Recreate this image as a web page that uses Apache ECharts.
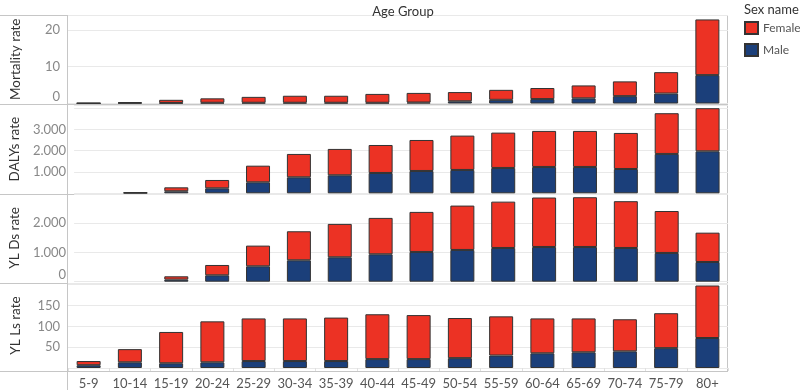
<!DOCTYPE html>
<html>
<head>
<meta charset="utf-8">
<script src="https://cdn.jsdelivr.net/npm/echarts@6/dist/echarts.min.js"></script>
<style>
  html, body { margin: 0; padding: 0; background: #fff; }
  #main { width: 800px; height: 390px; }
</style>
</head>
<body>
<div id="main"></div>
<script>
// categories
var ageGroups = ["5-9", "10-14", "15-19", "20-24", "25-29", "30-34", "35-39", "40-44",
  "45-49", "50-54", "55-59", "60-64", "65-69", "70-74", "75-79", "80+"];

// Mortality rate
var mortalityMale = [0.05, 0.15, 0.15, 0.2, 0.2, 0.2, 0.2, 0.2, 0.27, 0.6, 1.0, 1.2, 1.4, 2.0, 2.7, 7.7];
var mortalityFemale = [0.1, 0.2, 0.85, 1.2, 1.6, 1.9, 1.9, 2.4, 2.6, 2.5, 2.7, 3.0, 3.5, 4.0, 5.8, 15.1];
var mortalityTicks = [0, 10, 20];

// DALYs rate
var dalysMale = [0, 20, 94, 234, 516, 750, 845, 953, 1047, 1094, 1188, 1235, 1235, 1140, 1845, 1970];
var dalysFemale = [0, 27, 186, 391, 779, 1095, 1235, 1312, 1453, 1611, 1657, 1690, 1690, 1690, 1910, 2020];
var dalysTicks = [1000, 2000, 3000];

// YLDs rate
var yldsMale = [0, 0, 70, 218, 525, 730, 833, 935, 1014, 1082, 1150, 1184, 1184, 1150, 980, 672];
var yldsFemale = [0, 0, 114, 352, 705, 990, 1137, 1240, 1366, 1513, 1580, 1686, 1696, 1595, 1430, 1000];
var yldsTicks = [0, 1000, 2000];

// YLLs rate
var yllsMale = [6.7, 13.7, 11.4, 13.7, 16.7, 16.7, 16.7, 21.4, 21.4, 23.7, 30, 35.3, 37.7, 40, 47.7, 72];
var yllsFemale = [10, 31.6, 75.1, 98.3, 102.3, 102.3, 104.3, 107.6, 105.6, 96.3, 94, 83.7, 81.3, 77, 83.8, 126];
var yllsTicks = [50, 100, 150];

var panels = [
  { name: "Mortality rate", male: mortalityMale, female: mortalityFemale, ticks: mortalityTicks, max: 24, interval: 10 },
  { name: "DALYs rate", male: dalysMale, female: dalysFemale, ticks: dalysTicks, max: 4140, interval: 1000 },
  { name: "YL Ds rate", male: yldsMale, female: yldsFemale, ticks: yldsTicks, max: 2990, interval: 1000 },
  { name: "YL Ls rate", male: yllsMale, female: yllsFemale, ticks: yllsTicks, max: 204, interval: 50 }
];

var FEMALE = "#ec3224";
var MALE = "#1b3f7a";
var FONT = "Lato";

// panel layout (zero line of each panel)
var grids = [
  { top: 15, height: 88.5 },
  { top: 105, height: 88.3 },
  { top: 194, height: 87.7 },
  { top: 283, height: 88.2 }
];

var fmt = function (v) {
  return String(v).replace(/\B(?=(\d{3})+(?!\d))/g, ".");
};
// zero values are not drawn at all (no outline)
var noZero = function (arr) {
  return arr.map(function (v) { return v === 0 ? null : v; });
};

var myChart = echarts.init(document.getElementById("main"));

var option = {
  animation: false,
  textStyle: { fontFamily: FONT },
  title: [
    {
      text: "Age Group",
      left: 398,
      textAlign: "center",
      top: 0,
      textStyle: { fontSize: 13, fontWeight: "normal", color: "#333", fontFamily: FONT }
    },
    {
      text: "Sex name",
      left: 739,
      top: -2,
      textStyle: { fontSize: 13, fontWeight: "normal", color: "#333", fontFamily: FONT }
    }
  ],
  legend: {
    orient: "vertical",
    left: 739,
    top: 16,
    itemWidth: 13,
    itemHeight: 12,
    itemGap: 8,
    icon: "rect",
    data: ["Female", "Male"],
    textStyle: { fontSize: 12, color: "#555", fontFamily: FONT }
  },
  grid: grids.map(function (g) {
    return { left: 68, width: 660, top: g.top, height: g.height };
  }),
  xAxis: panels.map(function (p, i) {
    return {
      gridIndex: i,
      type: "category",
      data: ageGroups,
      axisLine: { show: false },
      axisTick: { show: i === 3, length: 3, lineStyle: { color: "#e0e0e0" } },
      axisLabel: { show: i === 3, interval: 0, color: "#555", fontSize: 13, margin: 9, fontFamily: FONT }
    };
  }),
  yAxis: panels.map(function (p, i) {
    return {
      gridIndex: i,
      type: "value",
      min: 0,
      max: p.max,
      interval: p.interval,
      name: p.name,
      nameLocation: "middle",
      nameGap: 45,
      nameRotate: 90,
      nameTextStyle: { fontSize: 13.5, color: "#333", fontFamily: FONT },
      axisLine: { show: false },
      axisTick: { show: false },
      splitLine: {
        lineStyle: { color: "#e9e9e9" }
      },
      axisLabel: {
        margin: 8,
        color: "#888",
        fontSize: 13,
        fontFamily: FONT,
        showMaxLabel: false,
        formatter: function (v) {
          if (p.ticks.indexOf(v) < 0) return "";
          if (v === 0) return "{z|0}";
          return fmt(v);
        },
        rich: {
          z: { padding: [0, 0, 14, 0], color: "#888", fontSize: 13, fontFamily: FONT }
        }
      }
    };
  }),
  series: [],
  graphic: []
};

panels.forEach(function (p, i) {
  option.series.push({
    name: "Male",
    type: "bar",
    stack: "s" + i,
    xAxisIndex: i,
    yAxisIndex: i,
    barWidth: 24,
    data: noZero(p.male),
    itemStyle: { color: MALE, borderColor: "#333", borderWidth: 1 }
  });
  option.series.push({
    name: "Female",
    type: "bar",
    stack: "s" + i,
    xAxisIndex: i,
    yAxisIndex: i,
    barWidth: 24,
    data: noZero(p.female),
    itemStyle: { color: FEMALE, borderColor: "#333", borderWidth: 1 }
  });
});

// frame lines (panel borders)
var frameColor = "#c6c6c6";
[15.5, 104.5, 194.5, 283.5, 371.5].forEach(function (y) {
  option.graphic.push({
    type: "line",
    silent: true,
    shape: { x1: 0, y1: y, x2: 728, y2: y },
    style: { stroke: frameColor, lineWidth: 1 }
  });
});
option.graphic.push({
  type: "line", silent: true,
  shape: { x1: 67.5, y1: 15, x2: 67.5, y2: 390 },
  style: { stroke: frameColor, lineWidth: 1 }
});
option.graphic.push({
  type: "line", silent: true,
  shape: { x1: 727.5, y1: 15, x2: 727.5, y2: 372 },
  style: { stroke: frameColor, lineWidth: 1 }
});

myChart.setOption(option);
</script>
</body>
</html>
